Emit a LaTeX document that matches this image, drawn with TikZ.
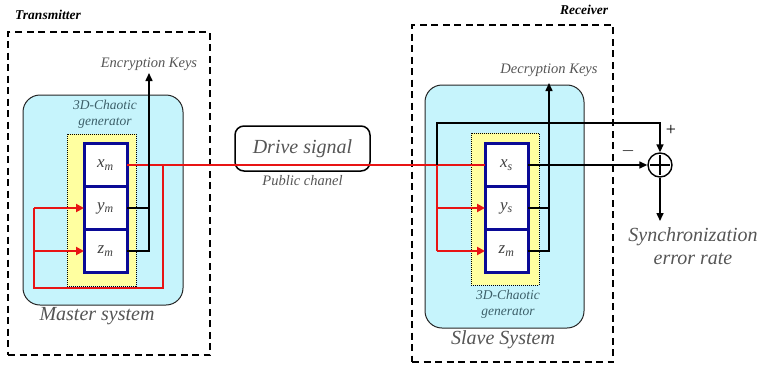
\documentclass[tikz,border=0pt]{standalone}
\usepackage{fontspec}
\setmainfont{Liberation Serif}
\usetikzlibrary{positioning, arrows.meta, calc}
\definecolor{sysCyan}{RGB}{198,244,252}
\definecolor{genYellow}{RGB}{255,255,160}
\definecolor{stateBlue}{RGB}{10,10,150}
\definecolor{sigRed}{RGB}{232,20,20}
\definecolor{txtGray}{RGB}{85,85,85}
\definecolor{genTeal}{RGB}{60,95,105}

\begin{document}
\begin{tikzpicture}[
    x=1pt, y=-1pt,
    dashbox/.style={rectangle, draw, line width=1.8pt, dash pattern=on 7pt off 4.5pt,
                    inner sep=0pt},
    sysbox/.style={rectangle, draw=black!85, fill=sysCyan, rounded corners=17pt,
                   line width=1pt, inner sep=0pt},
    genbox/.style={rectangle, draw=black, fill=genYellow, densely dotted,
                   line width=1pt, inner sep=0pt},
    statebox/.style={rectangle, draw=stateBlue, fill=white, line width=3pt,
                     minimum width=43pt, minimum height=43pt, outer sep=0pt,
                     text=black!75, font=\itshape\fontsize{17}{17}\selectfont},
    lbl/.style={text=txtGray, font=\itshape\fontsize{14.5}{14.5}\selectfont},
    genlbl/.style={text=genTeal, align=center,
                   font=\itshape\fontsize{13.5}{16}\selectfont},
    syslbl/.style={text=txtGray, font=\itshape\fontsize{20}{20}\selectfont},
    framelbl/.style={font=\bfseries\itshape\fontsize{13.5}{13.5}\selectfont},
    redline/.style={sigRed, line width=2pt},
    redarrow/.style={redline, -{Triangle[length=8pt, width=8pt]}},
    arrow/.style={-{Triangle[length=8pt, width=7pt]}, line width=1.5pt},
  ]
    \useasboundingbox (0,0) rectangle (759,372);

    % transmitter / receiver frames
    \node[dashbox, minimum width=202pt, minimum height=323pt] (tx) at (109,193.5) {};
    \node[dashbox, minimum width=201pt, minimum height=337pt] (rx) at (512.5,193.5) {};
    \node[framelbl] (txlabel) at (48,15) {Transmitter};
    \node[framelbl] (rxlabel) at (584,10) {Receiver};

    % master and slave systems
    \node[sysbox, minimum width=160pt, minimum height=210pt] (master) at (103,200) {};
    \node[sysbox, minimum width=159pt, minimum height=243pt] (slave) at (504.5,206.5) {};
    \node[genbox, minimum width=69pt, minimum height=152pt] (gentx) at (101.5,210) {};
    \node[genbox, minimum width=68pt, minimum height=152pt] (genrx) at (505,209) {};
    \node[genlbl] (gentxlabel) at (105,114) {3D-Chaotic\\generator};
    \node[genlbl] (genrxlabel) at (508,304) {3D-Chaotic\\generator};
    \node[syslbl] (masterlabel) at (97,316) {Master system};
    \node[syslbl] (slavelabel) at (503,340) {Slave System};

    % state variables
    \node[statebox] (xm) at (105.5,165) {x\textsubscript{m}};
    \node[statebox, below=0pt of xm] (ym) {y\textsubscript{m}};
    \node[statebox, below=0pt of ym] (zm) {z\textsubscript{m}};
    \node[statebox] (xs) at (506.5,165) {x\textsubscript{s}};
    \node[statebox, below=0pt of xs] (ys) {y\textsubscript{s}};
    \node[statebox, below=0pt of ys] (zs) {z\textsubscript{m}};

    % public channel
    \node[draw, rounded corners=9pt, line width=1.5pt, minimum width=135pt,
          minimum height=45pt, text=txtGray,
          font=\itshape\fontsize{20}{20}\selectfont] (drive) at (302.5,148.5) {Drive signal};
    \node[lbl, below=0pt of drive] (chanel) {Public chanel};

    % comparator
    \node[circle, draw, line width=1.4pt, minimum size=24pt, inner sep=0pt] (sum) at (660,165) {};
    \draw[line width=1.4pt, shorten <=3pt, shorten >=3pt] (sum.west) -- (sum.east);
    \draw[line width=1.4pt, shorten <=3pt, shorten >=3pt] (sum.north) -- (sum.south);
    \node[font=\fontsize{18}{18}\selectfont] (plussign) at (671,130) {+};
    \node[font=\fontsize{18}{18}\selectfont] (minussign) at (628,151) {$-$};

    \coordinate (jtx) at (163,165);
    \coordinate (fbtx) at (34,288);
    \coordinate (jrx) at (437,165);
    \coordinate (plus) at (660,123);
    \coordinate (enc) at (149,73);
    \coordinate (dec) at (549,83);
    \coordinate (err) at (660,221);

    % drive signal and feedback
    \draw[redline] (xm.east) -- (xs.west);
    \draw[redline] (jtx) |- (fbtx) -- (fbtx |- ym);
    \draw[redarrow] (fbtx |- ym) -- (ym.west);
    \draw[redarrow] (fbtx |- zm) -- (zm.west);
    \draw[redline] (jrx) -- (jrx |- zs);
    \draw[redarrow] (jrx |- ys) -- (ys.west);
    \draw[redarrow] (jrx |- zs) -- (zs.west);

    % keys
    \draw[line width=1.5pt] (ym.east) -- (ym.east -| enc);
    \draw[arrow] (zm.east) -| (enc);
    \node[lbl, above=-1pt of enc] (enclabel) {Encryption Keys};
    \draw[line width=1.5pt] (ys.east) -- (ys.east -| dec);
    \draw[arrow] (zs.east) -| (dec);
    \node[lbl, above=3pt of dec] (declabel) {Decryption Keys};

    % synchronization error
    \draw[arrow] (jrx) |- (plus) -- (sum.north);
    \draw[arrow] (xs.east) -- (sum.west);
    \draw[arrow] (sum.south) -- (err);
    \node[text=txtGray, align=center, font=\itshape\fontsize{20}{23}\selectfont]
         (errlabel) at (693,246) {Synchronization\\error rate};
  \end{tikzpicture}
\end{document}
